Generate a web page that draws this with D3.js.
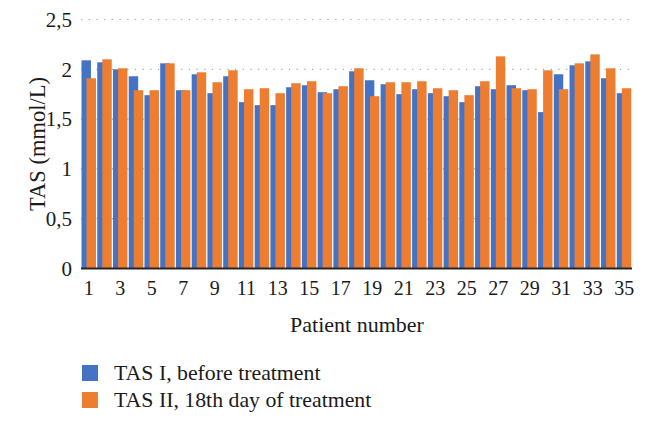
<!DOCTYPE html>
<html>
<head>
<meta charset="utf-8">
<script src="https://cdn.jsdelivr.net/npm/d3@7"></script>
<style>
  html, body { margin: 0; padding: 0; background: #fff; }
  svg { display: block; }
</style>
</head>
<body>
<svg id="chart" width="647" height="426"></svg>
<script>
const patients = d3.range(1, 36);
const tasBefore = [2.09, 2.07, 2.00, 1.93, 1.74, 2.06, 1.79, 1.95, 1.76, 1.93,
                   1.67, 1.64, 1.64, 1.82, 1.84, 1.77, 1.80, 1.98, 1.89, 1.85,
                   1.75, 1.80, 1.76, 1.73, 1.67, 1.83, 1.80, 1.84, 1.79, 1.57,
                   1.95, 2.04, 2.08, 1.91, 1.76];
const tasAfter  = [1.91, 2.10, 2.01, 1.79, 1.79, 2.06, 1.79, 1.97, 1.87, 1.99,
                   1.80, 1.81, 1.76, 1.86, 1.88, 1.76, 1.83, 2.01, 1.73, 1.87,
                   1.87, 1.88, 1.81, 1.79, 1.74, 1.88, 2.13, 1.81, 1.80, 1.99,
                   1.80, 2.06, 2.15, 2.01, 1.81];
const yTicks = [0, 0.5, 1, 1.5, 2, 2.5];
const xTickLabels = patients.filter(p => p % 2 === 1);
const seriesNames = ["TAS I, before treatment", "TAS II, 18th day of treatment"];
const colors = ["#4472C4", "#ED7D31"];

const svg = d3.select("#chart");
const mLeft = 81, mRight = 632, mTop = 19.5, mBottom = 268.5;
const font = "'Liberation Serif', 'DejaVu Serif', serif";
const ink = "#1a1a1a";

const x = d3.scaleBand().domain(patients).range([mLeft, mRight]).paddingInner(0).paddingOuter(0);
const y = d3.scaleLinear().domain([0, 2.5]).range([mBottom, mTop]);

// gridlines
svg.append("g").selectAll("line")
  .data(yTicks.filter(t => t > 0))
  .join("line")
  .attr("x1", mLeft).attr("x2", mRight)
  .attr("y1", d => y(d)).attr("y2", d => y(d))
  .attr("stroke", "#a6a6a6").attr("stroke-width", 1.2)
  .attr("stroke-dasharray", "1.2,6.5");

const bw = x.bandwidth();
const barW = bw * 0.6;
const offset = bw * 0.32;

// blue bars
svg.append("g").selectAll("rect")
  .data(patients)
  .join("rect")
  .attr("x", (d) => x(d) + 0.5)
  .attr("width", barW)
  .attr("y", (d, i) => y(tasBefore[i]))
  .attr("height", (d, i) => y(0) - y(tasBefore[i]))
  .attr("fill", colors[0]);

// orange bars
svg.append("g").selectAll("rect")
  .data(patients)
  .join("rect")
  .attr("x", (d) => x(d) + 0.5 + offset)
  .attr("width", barW)
  .attr("y", (d, i) => y(tasAfter[i]))
  .attr("height", (d, i) => y(0) - y(tasAfter[i]))
  .attr("fill", colors[1]);

// x axis line
svg.append("line")
  .attr("x1", mLeft).attr("x2", mRight)
  .attr("y1", y(0)).attr("y2", y(0))
  .attr("stroke", "#262626").attr("stroke-width", 1.8);

// y tick labels
const fmt = d => String(d).replace(".", ",");
svg.append("g").selectAll("text")
  .data(yTicks)
  .join("text")
  .attr("x", 72)
  .attr("y", d => y(d))
  .attr("dy", "0.35em")
  .attr("text-anchor", "end")
  .attr("font-family", font)
  .attr("font-size", 21)
  .attr("fill", ink)
  .text(fmt);

// x tick labels
svg.append("g").selectAll("text")
  .data(xTickLabels)
  .join("text")
  .attr("x", d => x(d) + bw / 2)
  .attr("y", 295)
  .attr("text-anchor", "middle")
  .attr("font-family", font)
  .attr("font-size", 20)
  .attr("fill", ink)
  .text(d => d);

// axis titles
svg.append("text")
  .attr("transform", "translate(45," + ((mTop + mBottom) / 2) + ") rotate(-90)")
  .attr("text-anchor", "middle")
  .attr("font-family", font)
  .attr("font-size", 22.5)
  .attr("fill", ink)
  .text("TAS (mmol/L)");

svg.append("text")
  .attr("x", 357)
  .attr("y", 332)
  .attr("text-anchor", "middle")
  .attr("font-family", font)
  .attr("font-size", 22)
  .attr("fill", ink)
  .text("Patient number");

// legend
const lg = svg.append("g").selectAll("g")
  .data(seriesNames)
  .join("g")
  .attr("transform", (d, i) => "translate(82," + (365 + i * 27) + ")");
lg.append("rect")
  .attr("width", 16).attr("height", 16)
  .attr("fill", (d, i) => colors[i]);
lg.append("text")
  .attr("x", 32).attr("y", 14.5)
  .attr("font-family", font)
  .attr("font-size", 21.8)
  .attr("fill", ink)
  .text(d => d);
</script>
</body>
</html>
